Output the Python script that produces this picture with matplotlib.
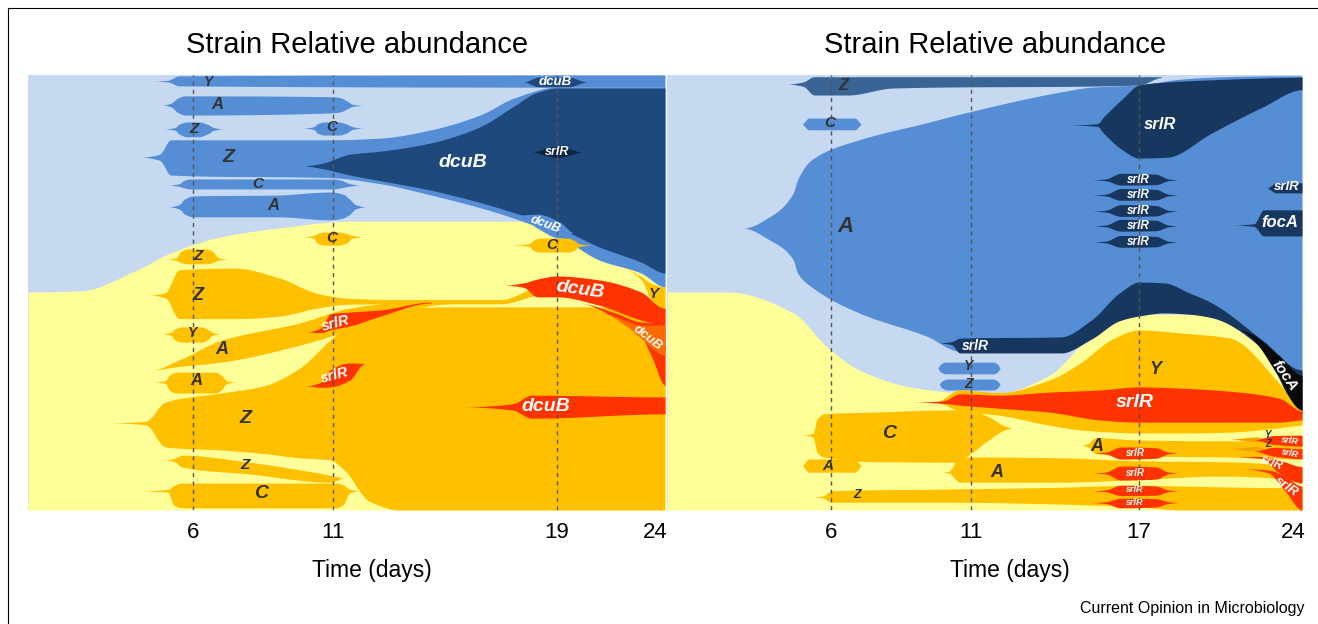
import numpy as np
import matplotlib
matplotlib.use("Agg")
import matplotlib.pyplot as plt
from matplotlib.lines import Line2D

plt.rcParams['font.family'] = ['Liberation Sans', 'DejaVu Sans']

LIGHT_BLUE = "#c6d9f1"
MID = "#558ed5"
NAVY = "#1f497d"
DEEP = "#17375e"
DARKEST = "#0f243e"
STEEL = "#3a6396"
YEL = "#ffff99"
ORA = "#ffc000"
ORA2 = "#f5a300"
RED = "#ff3300"
RED2 = "#ff6a00"
BLK = "#0a0a0a"
TXT = "#333333"
W = "white"

# ---------------- left panel (time in days, y = % of population from top) -------------
LEFT_XLIM = (0.1, 22.86)
LEFT_TICKS = [6, 11, 19, 22.5]
LEFT_TICKLABELS = ['6', '11', '19', '24']
LEFT_DASHED = [6, 11, 19]
LEFT_SPLIT_T = [0.1, 2.0, 4.0, 5.2, 7.0, 9.4, 11.6, 17.5, 19.0, 20.5, 22.0, 22.86]
LEFT_SPLIT_Y = [49.9, 49.6, 44.8, 40.9, 37.2, 34.9, 33.6, 33.6, 36.3, 42.5, 45.5, 48.7]

# colour, times, upper edge, lower edge
left_clones = [
    (MID, [4.5, 5.1, 5.5, 22.86], [1.4, 1.2, 0.2, 0.0], [1.4, 1.6, 2.5, 2.8]),                      # Y
    (MID, [4.1, 4.8, 5.2, 10.9, 12.7, 14.5, 16.25, 17.5, 19.0, 20.5, 22.0, 22.86],
          [18.9, 18.2, 14.9, 14.9, 14.5, 12.6, 9.2, 5.2, 2.8, 2.8, 2.8, 2.8],
          [18.9, 19.6, 23.0, 23.6, 25.0, 27.6, 30.5, 33.0, 36.8, 42.5, 45.5, 48.7]),                # Z
    (NAVY, [9.9, 10.6, 11.6, 12.7, 14.5, 16.25, 17.4, 18.25, 19.0, 20.5, 22.0, 22.86],
           [20.9, 20.3, 18.2, 17.5, 15.6, 11.9, 7.4, 4.1, 3.0, 3.0, 3.0, 3.0],
           [20.9, 21.5, 23.0, 24.3, 26.5, 29.3, 31.5, 33.3, 35.0, 39.5, 43.0, 45.5]),              # dcuB
    (NAVY, [17.8, 18.35, 19.4, 20.1], [1.6, 0.5, 0.5, 1.6], [1.6, 2.7, 2.7, 1.6]),                  # dcuB top
    (DARKEST, [18.1, 18.6, 19.0, 19.4, 19.9], [17.7, 16.9, 16.4, 16.9, 17.7],
              [17.7, 18.5, 19.0, 18.5, 17.7]),                                                    # srlR
    (MID, [17.6, 18.3, 19.1, 19.6], [32.2, 32.0, 33.8, 36.2], [32.2, 35.2, 37.5, 36.2]),            # dcuB small
    (MID, [4.9, 5.2, 5.45, 5.7, 11.0, 11.3, 11.5, 11.7, 12.1],
          [6.9, 6.5, 5.3, 4.8, 5.0, 5.3, 6.0, 6.7, 7.0],
          [6.9, 7.3, 8.6, 9.2, 8.7, 8.4, 7.8, 7.2, 7.0]),                                         # A
    (MID, [4.9, 5.35, 5.5, 5.8, 6.2, 6.5, 6.75, 7.1], [12.4, 12.1, 11.3, 10.8, 10.8, 11.3, 12.1, 12.4],
          [12.4, 12.7, 13.6, 14.2, 14.2, 13.6, 12.7, 12.4]),                                      # Z
    (MID, [9.85, 10.3, 10.45, 10.7, 11.2, 11.45, 11.7, 12.1], [12.2, 11.9, 11.2, 10.8, 10.8, 11.2, 11.9, 12.2],
          [12.2, 12.5, 13.4, 13.8, 13.8, 13.4, 12.5, 12.2]),                                      # C
    (MID, [5.1, 5.5, 5.65, 5.9, 11.0, 11.3, 11.55, 12.0], [25.3, 25.0, 24.3, 23.9, 23.9, 24.2, 24.9, 25.3],
          [25.3, 25.6, 25.9, 26.2, 26.2, 25.9, 25.6, 25.3]),                                      # C
    (MID, [5.1, 5.5, 5.7, 6.0, 9.0, 10.9, 11.35, 11.6, 11.8, 12.2],
          [30.3, 29.8, 28.5, 27.8, 27.6, 26.9, 27.4, 28.6, 29.8, 30.3],
          [30.3, 30.8, 32.0, 32.6, 32.6, 33.3, 32.9, 32.0, 30.8, 30.3]),                          # A
    (ORA, [2.9, 4.3, 5.0, 7.0, 8.5, 9.8, 10.9, 11.4, 12.3, 13.4, 15.2, 22.86],
          [80.0, 79.6, 75.2, 73.1, 71.5, 67.4, 60.9, 58.2, 55.2, 53.6, 53.3, 53.3],
          [80.0, 80.4, 85.5, 86.2, 87.0, 88.0, 88.5, 90.8, 98.0, 100, 100, 100]),                  # Z main
    (ORA, [4.4, 5.0, 5.5, 7.5, 9.0, 10.5, 11.5, 13.0, 17.0, 18.5],
          [50.6, 50.0, 44.8, 44.4, 46.5, 50.3, 51.3, 51.6, 51.6, 48.5],
          [50.6, 51.2, 56.0, 56.0, 55.5, 53.5, 52.7, 52.6, 52.6, 50.5]),                          # Z upper
    (ORA, [4.5, 5.5, 7.0, 9.8, 11.6, 13.4, 15.2], [67.8, 65.5, 61.0, 57.0, 53.6, 52.2, 51.8],
          [67.8, 67.0, 66.0, 62.1, 58.6, 54.5, 52.6]),                                            # A diagonal
    (RED, [10.0, 10.6, 10.9, 11.6, 12.7, 14.5], [59.1, 58.0, 54.9, 54.5, 54.0, 52.2],
          [59.1, 59.2, 58.6, 57.7, 55.4, 52.4]),                                                  # srlR
    (RED, [10.0, 10.6, 10.9, 11.6, 12.1], [71.5, 70.5, 67.8, 66.2, 66.3],
          [71.5, 71.8, 71.7, 70.1, 66.5]),                                                        # srlR
    (ORA, [4.8, 5.2, 5.35, 5.6, 6.3, 6.5, 6.7, 7.0], [59.5, 59.2, 58.4, 57.9, 57.9, 58.4, 59.2, 59.5],
          [59.5, 59.8, 60.9, 61.4, 61.4, 60.9, 59.8, 59.5]),                                      # Y
    (ORA, [4.5, 5.0, 5.15, 5.4, 6.8, 7.0, 7.2, 7.6], [70.6, 70.3, 69.0, 68.3, 68.3, 69.0, 70.3, 70.6],
          [70.6, 70.9, 72.4, 73.1, 73.1, 72.4, 70.9, 70.6]),                                      # A
    (ORA, [4.9, 5.3, 5.6, 8.0, 10.9, 11.4], [88.5, 88.2, 87.4, 89.0, 92.0, 92.6],
          [88.5, 88.8, 90.1, 91.7, 93.6, 92.6]),                                                  # Z lower
    (ORA, [3.85, 5.1, 5.3, 5.6, 11.1, 11.35, 11.6, 12.0], [95.6, 95.3, 94.4, 93.8, 93.8, 94.2, 95.2, 95.6],
          [95.6, 95.9, 98.8, 99.5, 99.5, 98.8, 96.0, 95.6]),                                      # C
    (ORA, [9.85, 10.3, 10.45, 10.7, 11.2, 11.45, 11.7, 12.1], [37.2, 36.9, 36.4, 36.1, 36.1, 36.4, 36.9, 37.2],
          [37.2, 37.5, 38.7, 39.1, 39.1, 38.7, 37.5, 37.2]),                                      # C
    (ORA, [17.3, 18.0, 18.15, 18.4, 19.4, 19.6, 19.8, 20.3], [39.1, 38.8, 38.0, 37.5, 37.5, 38.0, 38.8, 39.1],
          [39.1, 39.4, 40.3, 40.7, 40.7, 40.3, 39.4, 39.1]),                                      # C
    (ORA, [5.0, 5.4, 5.55, 5.8, 6.5, 6.7, 6.9, 7.3], [42.3, 42.0, 40.6, 40.0, 40.0, 40.6, 42.0, 42.3],
          [42.3, 42.6, 43.1, 43.4, 43.4, 43.1, 42.6, 42.3]),                                      # Z
    (RED, [17.1, 17.8, 18.3, 19.0, 20.5, 22.0, 22.86], [48.3, 47.8, 46.9, 46.2, 47.1, 49.9, 53.6],
          [48.3, 48.8, 51.0, 51.0, 52.9, 56.3, 57.5]),                                            # dcuB upper
    (RED, [19.8, 21.0, 22.0, 22.4, 22.86], [52.5, 54.5, 56.8, 57.0, 57.5],
          [52.5, 55.5, 60.0, 65.0, 71.3]),                                                        # red wedge
    (RED2, [20.5, 21.5, 22.0, 22.86], [54.5, 56.5, 57.5, 57.5], [54.5, 57.8, 60.5, 64.4]),          # dcuB
    (ORA, [21.0, 22.0, 22.4, 22.86], [43.4, 46.3, 48.0, 48.7], [43.4, 47.0, 52.0, 53.6]),          # Y wedge
    (RED, [15.6, 17.4, 18.1, 22.86], [76.3, 75.6, 73.6, 74.0], [76.3, 77.0, 78.9, 77.9]),          # dcuB mid
]

# text, time, y, colour, size, rotation
left_labels = [
    ("Y", 6.54, 1.6, TXT, 10, 0), ("dcuB", 18.93, 1.5, W, 9.5, 0), ("A", 6.86, 6.7, TXT, 12, 0),
    ("Z", 6.04, 12.4, TXT, 11, 0), ("C", 10.96, 12.0, TXT, 11, 0), ("Z", 7.25, 18.9, TXT, 14, 0),
    ("dcuB", 15.64, 20.2, W, 14, 0), ("srlR", 19.0, 17.7, W, 9, 0), ("C", 8.32, 25.1, TXT, 11, 0),
    ("A", 8.86, 29.9, TXT, 12, 0), ("dcuB", 18.57, 34.3, W, 9, -20), ("C", 10.96, 37.5, TXT, 11, 0),
    ("C", 18.82, 39.1, TXT, 11, 0), ("Z", 6.18, 41.6, TXT, 11, 0), ("Z", 6.18, 50.6, TXT, 13, 0),
    ("dcuB", 19.82, 49.4, W, 14, -8), ("Y", 22.46, 50.3, TXT, 11, 0), ("srlR", 11.1, 57.0, W, 10.5, 15),
    ("Y", 5.96, 59.3, TXT, 10, 0), ("A", 7.04, 63.2, TXT, 13, 0), ("dcuB", 22.25, 60.5, W, 9.5, -38),
    ("A", 6.1, 70.3, TXT, 12, 0), ("srlR", 11.07, 69.0, W, 10.5, 15), ("dcuB", 18.6, 76.1, W, 14, 0),
    ("Z", 7.86, 78.9, TXT, 14, 0), ("Z", 7.86, 89.7, TXT, 11, 0), ("C", 8.43, 96.3, TXT, 14, 0),
]

# ---------------- right panel -------------
RIGHT_XLIM = (0.14, 22.82)
RIGHT_TICKS = [6, 11, 17, 22.5]
RIGHT_TICKLABELS = ['6', '11', '17', '24']
RIGHT_DASHED = [6, 11, 17]
RIGHT_SPLIT_T = [0.14, 2.3, 4.65, 5.85, 7.0, 8.8, 10.6, 11.7, 13.8, 15.0, 16.0, 22.82]
RIGHT_SPLIT_Y = [49.9, 49.9, 54.7, 62.5, 67.8, 71.7, 73.1, 73.6, 69.0, 61.5, 55.0, 55.0]

LENS_T = [15.25, 15.8, 16.35, 17.6, 18.05, 18.45]

right_clones = [
    (MID, [2.85, 3.8, 4.65, 4.8, 5.3, 7.0, 9.4, 10.6, 14.2, 15.3, 16.3, 17.0, 18.4, 19.6, 20.6, 21.8, 22.82],
          [35.2, 32.6, 27.1, 24.1, 19.5, 14.9, 11.0, 9.0, 3.9, 2.8, 2.5, 2.3, 1.0, 0.5, 0.3, 0.2, 0.2],
          [35.2, 37.9, 42.5, 45.5, 48.7, 54.7, 60.0, 63.5, 63.5, 60.3, 56.2, 55.1, 54.4, 55.5, 58.5, 65.5, 77.0]),  # A
    (STEEL, [4.4, 5.0, 5.4, 6.6, 8.2, 17.0, 17.8], [2.1, 1.6, 0.4, 0.4, 0.4, 0.4, 0.4],
            [2.1, 2.6, 4.6, 4.6, 3.0, 2.3, 0.6]),                                                 # Z
    (MID, [4.95, 5.2, 6.85, 7.1], [11.3, 9.9, 9.9, 11.3], [11.3, 12.6, 12.6, 11.3]),                # C
    (DEEP, [14.3, 15.5, 15.75, 16.4, 17.0, 18.0, 19.6, 21.4, 22.82],
           [11.5, 11.2, 9.5, 5.5, 2.3, 1.6, 1.1, 0.7, 0.5],
           [11.5, 11.8, 13.5, 17.2, 19.1, 18.9, 13.3, 7.4, 3.4]),                                 # srlR
    (DEEP, LENS_T, [24.1, 23.9, 22.6, 22.8, 23.9, 24.1], [24.1, 24.3, 25.3, 25.2, 24.3, 24.1]),
    (DEEP, LENS_T, [27.6, 27.4, 26.1, 26.3, 27.4, 27.6], [27.6, 27.8, 28.8, 28.7, 27.8, 27.6]),
    (DEEP, LENS_T, [31.3, 31.1, 29.8, 30.0, 31.1, 31.3], [31.3, 31.5, 32.5, 32.4, 31.5, 31.3]),
    (DEEP, LENS_T, [34.7, 34.5, 33.2, 33.4, 34.5, 34.7], [34.7, 34.9, 35.9, 35.8, 34.9, 34.7]),
    (DEEP, LENS_T, [38.4, 38.2, 36.9, 37.1, 38.2, 38.4], [38.4, 38.6, 39.6, 39.5, 38.6, 38.4]),
    (DEEP, [21.55, 21.9, 22.82], [26.0, 24.8, 24.8], [26.0, 27.1, 27.1]),                           # srlR
    (DEEP, [20.25, 21.1, 21.45, 22.82], [34.5, 34.2, 31.0, 31.0], [34.5, 34.8, 37.0, 37.0]),        # focA
    (DEEP, [9.8, 10.3, 10.6, 14.2, 15.3, 16.3, 17.0, 17.9, 18.8, 19.6, 21.4, 22.82],
           [61.6, 61.3, 60.5, 60.2, 56.3, 50.1, 47.6, 47.8, 50.1, 52.4, 60.9, 67.8],
           [61.6, 62.0, 63.9, 63.9, 60.7, 56.5, 55.4, 54.7, 55.0, 55.8, 63.0, 77.5]),             # srlR band
    (BLK, [20.6, 21.0, 22.0, 22.82], [58.6, 59.5, 64.5, 69.0], [58.6, 60.3, 69.5, 77.7]),          # focA
    (MID, [9.8, 9.9, 10.1, 11.8, 11.95, 12.05], [67.4, 66.5, 66.0, 66.0, 66.5, 67.4],
          [67.4, 68.2, 68.7, 68.7, 68.2, 67.4]),                                                  # Y
    (MID, [9.85, 9.95, 10.15, 11.8, 11.95, 12.05], [71.1, 70.4, 69.9, 69.9, 70.4, 71.1],
          [71.1, 71.9, 72.4, 72.4, 71.9, 71.1]),                                                  # Z
    (ORA, [9.7, 10.6, 12.0, 13.8, 14.9, 16.1, 17.0, 18.5, 20.25, 22.0, 22.82],
          [75.2, 72.4, 73.0, 70.1, 66.2, 60.5, 58.6, 59.3, 60.5, 70.8, 77.0],
          [75.2, 77.2, 78.2, 80.5, 81.6, 82.1, 82.3, 82.3, 82.1, 81.1, 80.5]),                    # Y
    (RED, [8.9, 10.0, 10.6, 12.0, 13.8, 15.6, 17.0, 18.5, 20.25, 22.0, 22.82],
          [75.2, 74.9, 73.3, 73.6, 72.9, 72.4, 71.7, 72.0, 72.7, 74.3, 77.2],
          [75.2, 75.5, 75.9, 76.6, 77.5, 79.3, 79.8, 79.8, 79.8, 79.8, 79.3]),                    # srlR
    (ORA, [4.9, 5.35, 5.5, 5.75, 7.5, 10.4, 11.1, 11.6, 12.4],
          [82.8, 82.4, 79.0, 77.9, 77.5, 77.0, 77.3, 78.5, 81.0],
          [82.8, 83.2, 86.8, 87.8, 88.9, 89.0, 86.5, 84.0, 81.3]),                                # C
    (ORA, [4.95, 5.2, 6.85, 7.1], [89.8, 88.3, 88.3, 89.8], [89.8, 91.3, 91.3, 89.8]),              # A
    (ORA, [5.25, 5.7, 6.0, 10.0, 14.0, 17.0, 18.5, 22.82], [97.0, 96.8, 95.6, 95.2, 94.8, 94.3, 94.5, 94.9],
          [97.0, 97.2, 98.2, 98.2, 98.6, 99.3, 100, 100]),                                        # Z
    (ORA, [9.9, 10.2, 10.6, 14.2, 17.0, 19.9, 21.5, 22.82], [91.3, 91.1, 87.8, 88.0, 88.7, 88.9, 89.3, 90.5],
          [91.3, 91.5, 93.6, 93.6, 93.0, 92.2, 92.5, 93.5]),                                      # A
    (ORA, [14.9, 15.15, 15.45, 17.0, 20.0, 22.82], [85.1, 84.8, 83.4, 83.9, 84.1, 84.1],
          [85.1, 85.4, 87.0, 87.6, 87.8, 88.3]),                                                  # A upper
    (RED, LENS_T, [86.9, 86.7, 85.5, 85.7, 86.7, 86.9], [86.9, 87.1, 88.3, 88.1, 87.1, 86.9]),
    (RED, LENS_T, [91.5, 91.3, 89.9, 90.1, 91.3, 91.5], [91.5, 91.7, 93.1, 92.9, 91.7, 91.5]),
    (RED, LENS_T, [95.6, 95.4, 94.3, 94.5, 95.4, 95.6], [95.6, 95.8, 96.7, 96.6, 95.8, 95.6]),
    (RED, LENS_T, [98.3, 98.1, 97.3, 97.4, 98.1, 98.3], [98.3, 98.5, 99.5, 99.3, 98.5, 98.3]),
    (ORA2, [20.2, 21.2, 21.6], [83.7, 83.2, 83.9], [83.7, 84.3, 83.9]),
    (ORA2, [20.2, 21.2, 21.6], [85.9, 85.4, 86.1], [85.9, 86.5, 86.1]),
    (RED, [21.1, 21.8, 22.82], [83.9, 82.9, 82.8], [83.9, 84.9, 85.3]),
    (RED, [21.1, 21.8, 22.82], [86.5, 85.6, 85.9], [86.5, 87.6, 88.2]),
    (RED, [20.3, 21.4, 22.0, 22.82], [87.8, 87.7, 88.5, 90.0], [87.8, 88.2, 91.5, 93.8]),
    (RED, [20.6, 21.6, 22.2, 22.82], [90.5, 90.8, 92.2, 94.5], [90.5, 91.4, 95.5, 100]),
]

right_labels = [
    ("Z", 6.43, 2.3, TXT, 12, 0), ("C", 5.96, 11.0, TXT, 11, 0), ("srlR", 17.75, 11.3, W, 12, 0),
    ("A", 6.5, 34.9, TXT, 16, 0),
    ("srlR", 16.96, 24.1, W, 8.5, 0), ("srlR", 16.96, 27.6, W, 8.5, 0), ("srlR", 16.96, 31.3, W, 8.5, 0),
    ("srlR", 16.96, 34.7, W, 8.5, 0), ("srlR", 16.96, 38.4, W, 8.5, 0),
    ("srlR", 22.29, 25.7, W, 9.5, 0), ("focA", 22.04, 33.8, W, 12, 0), ("srlR", 11.14, 62.3, W, 10, 0),
    ("Y", 10.9, 66.9, TXT, 10, 0), ("Z", 10.9, 71.0, TXT, 10, 0), ("Y", 17.57, 67.8, TXT, 13, 0),
    ("focA", 22.21, 69.2, W, 11, -55), ("srlR", 16.86, 75.2, W, 14, 0), ("C", 8.07, 82.3, TXT, 14, 0),
    ("A", 15.5, 85.3, TXT, 13, 0), ("A", 5.89, 89.9, TXT, 11, 0), ("A", 11.93, 91.3, TXT, 13, 0),
    ("Z", 6.93, 96.6, TXT, 9, 0),
    ("srlR", 16.86, 86.8, W, 7, 0), ("srlR", 16.86, 91.5, W, 7, 0), ("srlR", 16.86, 95.4, W, 6.5, 0),
    ("srlR", 16.86, 98.2, W, 6.5, 0),
    ("Y", 21.6, 82.8, TXT, 7, 0), ("Z", 21.6, 84.9, TXT, 7, 0),
    ("srlR", 22.4, 84.1, W, 6.5, -8), ("srlR", 22.4, 86.9, W, 6.5, -12),
    ("srlR", 21.75, 89.2, W, 8.5, -20), ("srlR", 22.25, 94.7, W, 9.5, -35),
]


def edge(tk, yk, tt):
    # monotone cubic through the key values, flat at both ends
    tk = np.asarray(tk, float)
    yk = np.asarray(yk, float)
    h = np.diff(tk)
    d = np.diff(yk) / h
    m = np.zeros_like(yk)
    for k in range(1, len(yk) - 1):
        if d[k - 1] * d[k] > 0:
            w1 = 2 * h[k] + h[k - 1]
            w2 = h[k] + 2 * h[k - 1]
            m[k] = (w1 + w2) / (w1 / d[k - 1] + w2 / d[k])
    i = np.clip(np.searchsorted(tk, tt, side='right') - 1, 0, len(h) - 1)
    s = (tt - tk[i]) / h[i]
    return ((2 * s**3 - 3 * s**2 + 1) * yk[i] + (s**3 - 2 * s**2 + s) * h[i] * m[i]
            + (-2 * s**3 + 3 * s**2) * yk[i + 1] + (s**3 - s**2) * h[i] * m[i + 1])


def draw_panel(ax, xlim, split_t, split_y, clones, labels, ticks, ticklabels, dashed):
    ax.set_facecolor(LIGHT_BLUE)
    tt = np.linspace(xlim[0], xlim[1], 900)
    ax.fill_between(tt, edge(split_t, split_y, tt), 100, color=YEL, lw=0)
    for colour, t, top, bot in clones:
        tt = np.linspace(t[0], t[-1], 500)
        ax.fill_between(tt, edge(t, top, tt), edge(t, bot, tt), color=colour, lw=0)
    for d in dashed:
        ax.axvline(d, color='#555555', ls=(0, (3, 3)), lw=1.0)
    for text, t, y, colour, size, rot in labels:
        ax.text(t, y, text, color=colour, fontsize=size, rotation=rot, fontweight='bold',
                style='italic', ha='center', va='center', rotation_mode='anchor')
    ax.set_xlim(*xlim)
    ax.set_ylim(100, 0)
    ax.set_xticks(ticks, ticklabels)
    ax.set_yticks([])
    ax.tick_params(axis='x', length=0, labelsize=16, pad=9)
    for s in ax.spines.values():
        s.set_visible(False)
    ax.set_title("Strain Relative abundance", fontsize=21, pad=16, x=0.516)
    ax.text(0.54, -0.14, "Time (days)", transform=ax.transAxes, fontsize=16.5,
            ha='center', va='center')


fig = plt.figure(figsize=(13.18, 6.24), dpi=100)
ax1 = fig.add_axes([28 / 1318, 114 / 624, 637 / 1318, 435 / 624])
ax2 = fig.add_axes([667 / 1318, 114 / 624, 635 / 1318, 435 / 624])

draw_panel(ax1, LEFT_XLIM, LEFT_SPLIT_T, LEFT_SPLIT_Y, left_clones, left_labels,
           LEFT_TICKS, LEFT_TICKLABELS, LEFT_DASHED)
draw_panel(ax2, RIGHT_XLIM, RIGHT_SPLIT_T, RIGHT_SPLIT_Y, right_clones, right_labels,
           RIGHT_TICKS, RIGHT_TICKLABELS, RIGHT_DASHED)

fig.text(1304 / 1318, 1 - 608 / 624, "Current Opinion in Microbiology", fontsize=11.5,
         ha='right', va='center')
fig.add_artist(Line2D([8 / 1318, 1], [1 - 8 / 624, 1 - 8 / 624], color='black', lw=0.8))
fig.add_artist(Line2D([8 / 1318, 8 / 1318], [0, 1 - 8 / 624], color='black', lw=0.8))

fig.savefig("out.png", dpi=100)
